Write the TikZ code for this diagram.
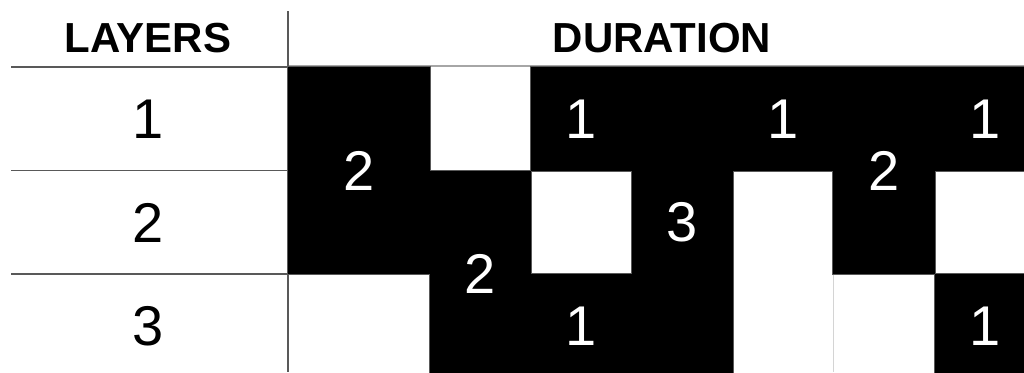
\documentclass[tikz,border=0pt]{standalone}
\usepackage{fontspec}
\setmainfont{Liberation Sans}
\usetikzlibrary{positioning}
\definecolor{rulegray}{HTML}{595959}
\definecolor{lightrule}{HTML}{A6A6A6}
\definecolor{faint}{HTML}{D4D4D4}
\tikzset{
  head/.style={font=\fontsize{42}{44}\selectfont\bfseries,inner sep=0pt},
  layer/.style={font=\fontsize{56}{58}\selectfont,inner sep=0pt},
  blockedge/.style={draw=rulegray,line width=2pt,inner sep=0pt,outer sep=0pt},
  block/.style={fill=black,text=white,inner sep=0pt,outer sep=0pt,font=\fontsize{56}{58}\selectfont},
  rule/.style={draw=rulegray,line width=1.3pt},
  headrule/.style={draw=lightrule,line width=1.3pt},
  faintrule/.style={draw=faint,line width=1pt}
}
\newcommand\blocklist{
  twoA/359/170.5/142/207.5/2,
  twoB/480.5/274/101/207/2,
  oneA/581.5/118.75/101/103.5/1,
  oneB/581.5/325.75/101/103.5/1,
  three/682.5/222.25/101/310.5/3,
  oneC/783/118.75/100/103.5/1,
  twoC/884/170.5/102/207.5/2,
  oneD/985.5/118.75/101/103.5/1,
  oneE/985.5/325.75/101/103.5/1}

\begin{document}
\begin{tikzpicture}[x=1pt,y=-1pt]
  \useasboundingbox (0,0) rectangle (1024,372);
  \clip (0,0) rectangle (1024,372);
  \node[head] (layers) at (148,38) {LAYERS};
  \node[head] (duration) at (662,38) {DURATION};
  \foreach \n/\y in {1/119,2/222.5,3/326}
    \node[layer] (layer\n) at (148,\y) {\n};
  \draw[headrule] (288,66) -- (1024,66);
  \foreach \y in {67,170.5,274}
    \draw[rule] (11,\y) -- (288,\y);
  \draw[rule] (288,11) -- (288,372);
  \draw[faintrule] (833,274) -- (833,372);
  \foreach \name/\x/\y/\w/\h/\n in \blocklist
    \node[blockedge,minimum width=\w pt,minimum height=\h pt] (\name edge) at (\x,\y) {};
  \foreach \name/\x/\y/\w/\h/\n in \blocklist
    \node[block,minimum width=\w pt,minimum height=\h pt] (\name) at (\x,\y) {\n};
\end{tikzpicture}
\end{document}
